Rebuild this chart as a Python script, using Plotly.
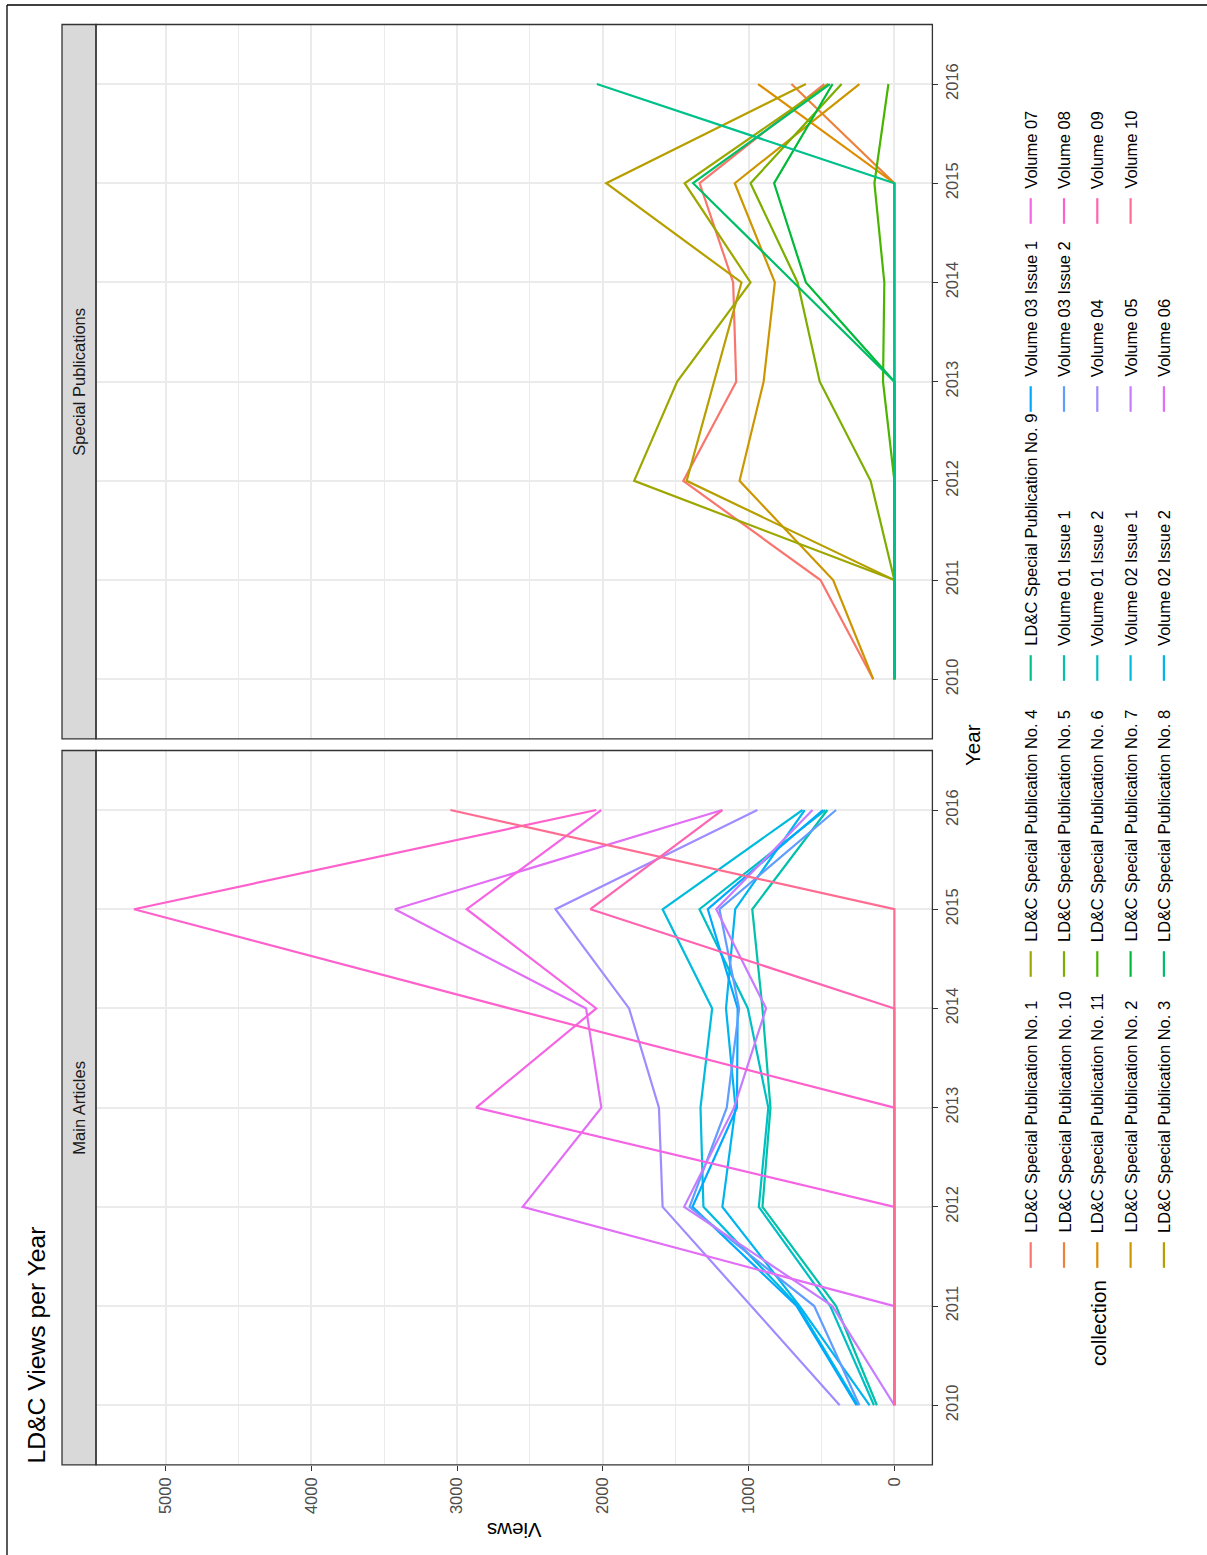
import math
import plotly.graph_objects as go

W, H = 1207, 1555

years = [2010, 2011, 2012, 2013, 2014, 2015, 2016]
year_labels = ["2010", "2011", "2012", "2013", "2014", "2015", "2016"]
views_ticks = [0, 1000, 2000, 3000, 4000, 5000]
views_tick_labels = ["0", "1000", "2000", "3000", "4000", "5000"]
views_minor = [500, 1500, 2500, 3500, 4500]

# ---- Special Publications (views per year 2010..2016) ----
sp_no1 = [145, 507, 1448, 1085, 1106, 1336, 481]
sp_no10 = [0, 0, 0, 0, 0, 0, 706]
sp_no11 = [0, 0, 0, 0, 0, 0, 935]
sp_no2 = [145, 420, 1062, 897, 820, 1095, 240]
sp_no3 = [0, 0, 1425, 1235, 1049, 1977, 607]
sp_no4 = [0, 0, 1785, 1490, 987, 1439, 454]
sp_no5 = [0, 0, 163, 512, 664, 987, 362]
sp_no6 = [0, 0, 0, 78, 69, 137, 41]
sp_no7 = [0, 0, 0, 0, 607, 825, 424]
sp_no8 = [0, 0, 0, 0, 690, 1381, 442]
sp_no9 = [0, 0, 0, 0, 0, 0, 2041]

# ---- Main Articles ----
vol01_1 = [120, 400, 905, 850, 905, 975, 460]
vol01_2 = [140, 440, 930, 865, 1005, 1337, 475]
vol02_1 = [250, 660, 1310, 1330, 1250, 1590, 630]
vol02_2 = [170, 650, 1180, 1090, 1155, 1092, 615]
vol03_1 = [260, 670, 1385, 1080, 1075, 1280, 490]
vol03_2 = [240, 550, 1405, 1150, 1065, 1200, 400]
vol04 = [375, 980, 1590, 1615, 1820, 2325, 940]
vol05 = [0, 425, 1442, 1100, 880, 1222, 562]
vol06 = [0, 0, 2550, 2010, 2115, 3426, 1180]
vol07 = [0, 0, 0, 2869, 2045, 2934, 2011]
vol08 = [0, 0, 0, 0, 2640, 5216, 2045]
vol09 = [0, 0, 0, 0, 0, 2085, 1180]
vol10 = [0, 0, 0, 0, 0, 0, 3046]

special_series = [
    ("LD&C Special Publication No. 1", sp_no1),
    ("LD&C Special Publication No. 10", sp_no10),
    ("LD&C Special Publication No. 11", sp_no11),
    ("LD&C Special Publication No. 2", sp_no2),
    ("LD&C Special Publication No. 3", sp_no3),
    ("LD&C Special Publication No. 4", sp_no4),
    ("LD&C Special Publication No. 5", sp_no5),
    ("LD&C Special Publication No. 6", sp_no6),
    ("LD&C Special Publication No. 7", sp_no7),
    ("LD&C Special Publication No. 8", sp_no8),
    ("LD&C Special Publication No. 9", sp_no9),
]
main_series = [
    ("Volume 01 Issue 1", vol01_1),
    ("Volume 01 Issue 2", vol01_2),
    ("Volume 02 Issue 1", vol02_1),
    ("Volume 02 Issue 2", vol02_2),
    ("Volume 03 Issue 1", vol03_1),
    ("Volume 03 Issue 2", vol03_2),
    ("Volume 04", vol04),
    ("Volume 05", vol05),
    ("Volume 06", vol06),
    ("Volume 07", vol07),
    ("Volume 08", vol08),
    ("Volume 09", vol09),
    ("Volume 10", vol10),
]
legend_names = [n for n, _ in special_series] + [n for n, _ in main_series]


def hcl_hex(h, c=100.0, l=65.0):
    Xn, Yn, Zn = 95.047, 100.0, 108.883
    hr = math.radians(h)
    U = c * math.cos(hr)
    V = c * math.sin(hr)
    Y = Yn * ((l + 16) / 116) ** 3 if l > 7.999592 else Yn * l / 903.3
    den = Xn + 15 * Yn + 3 * Zn
    un = 4 * Xn / den
    vn = 9 * Yn / den
    Q = U / (13 * l) + un
    R = V / (13 * l) + vn
    X = 9.0 * Y * Q / (4.0 * R)
    Z = -X / 3.0 - 5.0 * Y + 3.0 * Y / R
    X, Y, Z = X / 100, Y / 100, Z / 100
    r = 3.240479 * X - 1.537150 * Y - 0.498535 * Z
    g = -0.969256 * X + 1.875992 * Y + 0.041556 * Z
    b = 0.055648 * X - 0.204043 * Y + 1.057311 * Z

    def gt(u):
        u = 1.055 * u ** (1 / 2.4) - 0.055 if u > 0.00304 else 12.92 * u
        return min(1.0, max(0.0, u))

    return "#%02X%02X%02X" % tuple(int(round(255 * gt(v))) for v in (r, g, b))


n = len(legend_names)
colors = {name: hcl_hex(15 + 360.0 / n * i) for i, name in enumerate(legend_names)}

FONT = "Liberation Sans, Arial, Helvetica, sans-serif"


def px(x):
    return x / W


def py(y):
    return 1 - y / H


fig = go.Figure()
for name, vals in main_series:
    fig.add_trace(go.Scatter(x=vals, y=years, mode="lines", name=name,
                             line=dict(color=colors[name], width=2.2),
                             xaxis="x", yaxis="y", showlegend=False))
for name, vals in special_series:
    fig.add_trace(go.Scatter(x=vals, y=years, mode="lines", name=name,
                             line=dict(color=colors[name], width=2.2),
                             xaxis="x2", yaxis="y2", showlegend=False))

all_vals = [v for _, s in main_series + special_series for v in s]
vmax = max(all_vals)
vmin = min(all_vals)
span = vmax - vmin
x_range = [vmax + 0.05 * span, vmin - 0.05 * span]  # reversed

panel_x0, panel_x1 = 96.0, 932.4
main_y0, main_y1 = 750.5, 1464.8
spec_y0, spec_y1 = 24.5, 738.8
strip_x0 = 62.0

tickfont = dict(family=FONT, size=16.5, color="#4D4D4D")
common_x = dict(range=x_range, showgrid=True, gridcolor="#EBEBEB", gridwidth=1.9,
                zeroline=False, showline=False,
                minor=dict(tickvals=views_minor, showgrid=True, gridcolor="#EBEBEB",
                           gridwidth=0.9, ticks=""),
                domain=[px(panel_x0), px(panel_x1)])
common_y = dict(range=[2009.4, 2016.6], tickvals=years, ticktext=year_labels,
                side="right", tickangle=-90, ticks="outside", ticklen=5,
                tickwidth=1.3, tickcolor="#333333", tickfont=tickfont,
                showgrid=True, gridcolor="#EBEBEB", gridwidth=1.9,
                zeroline=False, showline=False)

fig.update_layout(
    width=W, height=H, autosize=False,
    margin=dict(l=0, r=0, t=0, b=0, pad=0),
    paper_bgcolor="white", plot_bgcolor="white",
    showlegend=False,
    xaxis=dict(anchor="y", tickvals=views_ticks, ticktext=views_tick_labels,
               tickangle=-90, ticks="outside", ticklen=5, tickwidth=1.3,
               tickcolor="#333333", tickfont=tickfont, **common_x),
    yaxis=dict(anchor="x", domain=[py(main_y1), py(main_y0)], **common_y),
    xaxis2=dict(anchor="y2", matches="x", tickvals=views_ticks, showticklabels=False,
                ticks="", **common_x),
    yaxis2=dict(anchor="x2", domain=[py(spec_y1), py(spec_y0)], **common_y),
)

shapes = []
annotations = []
# frame around whole figure
shapes.append(dict(type="line", xref="paper", yref="paper", x0=px(7), x1=px(1210),
                   y0=py(5), y1=py(5), line=dict(color="black", width=1.3)))
shapes.append(dict(type="line", xref="paper", yref="paper", x0=px(7), x1=px(7),
                   y0=py(5), y1=py(1560), line=dict(color="black", width=1.3)))

for (y0, y1, label) in [(main_y0, main_y1, "Main Articles"), (spec_y0, spec_y1, "Special Publications")]:
    shapes.append(dict(type="rect", xref="paper", yref="paper", layer="above",
                       x0=px(strip_x0), x1=px(panel_x0), y0=py(y1), y1=py(y0),
                       fillcolor="#D9D9D9", line=dict(color="#333333", width=1.3)))
    shapes.append(dict(type="rect", xref="paper", yref="paper", layer="above",
                       x0=px(panel_x0), x1=px(panel_x1), y0=py(y1), y1=py(y0),
                       fillcolor="rgba(0,0,0,0)", line=dict(color="#333333", width=1.3)))
    annotations.append(dict(text=label, xref="paper", yref="paper",
                            x=px((strip_x0 + panel_x0) / 2), y=py((y0 + y1) / 2),
                            showarrow=False, textangle=-90, xanchor="center", yanchor="middle",
                            font=dict(family=FONT, size=16.5, color="#1A1A1A")))

# title
annotations.append(dict(text="LD&C Views per Year", xref="paper", yref="paper",
                        x=px(36), y=py(1466), showarrow=False, textangle=-90,
                        xanchor="center", yanchor="bottom",
                        font=dict(family=FONT, size=24.7, color="black")))
# axis titles
annotations.append(dict(text="Year", xref="paper", yref="paper", x=px(972), y=py(745),
                        showarrow=False, textangle=-90, xanchor="center", yanchor="middle",
                        font=dict(family=FONT, size=20.6, color="black")))
annotations.append(dict(text="Views", xref="paper", yref="paper",
                        x=px((panel_x0 + panel_x1) / 2), y=py(1531),
                        showarrow=False, textangle=180, xanchor="center", yanchor="middle",
                        font=dict(family=FONT, size=20.6, color="black")))

# legend (built by hand, rotated like the rest)
annotations.append(dict(text="collection", xref="paper", yref="paper", x=px(1098), y=py(1368),
                        showarrow=False, textangle=-90, xanchor="center", yanchor="bottom",
                        font=dict(family=FONT, size=20.6, color="black")))
row_x = [1030.7 + 33.3 * r for r in range(5)]
col_key_y = [1255, 964, 668, 399, 211]
for i, name in enumerate(legend_names):
    col, row = divmod(i, 5)
    xc = row_x[row]
    yc = col_key_y[col]
    shapes.append(dict(type="line", xref="paper", yref="paper", x0=px(xc), x1=px(xc),
                       y0=py(yc - 12.8), y1=py(yc + 12.8),
                       line=dict(color=colors[name], width=2.2)))
    annotations.append(dict(text=name, xref="paper", yref="paper", x=px(xc), y=py(yc - 20),
                            showarrow=False, textangle=-90, xanchor="center", yanchor="bottom",
                            font=dict(family=FONT, size=16.5, color="black")))

fig.update_layout(shapes=shapes, annotations=annotations)
fig.write_html(
    "out.html",
    config={"displayModeBar": False},
    post_script="document.body.style.margin='0px';document.body.style.padding='0px';"
                "document.documentElement.style.overflow='hidden';",
)
